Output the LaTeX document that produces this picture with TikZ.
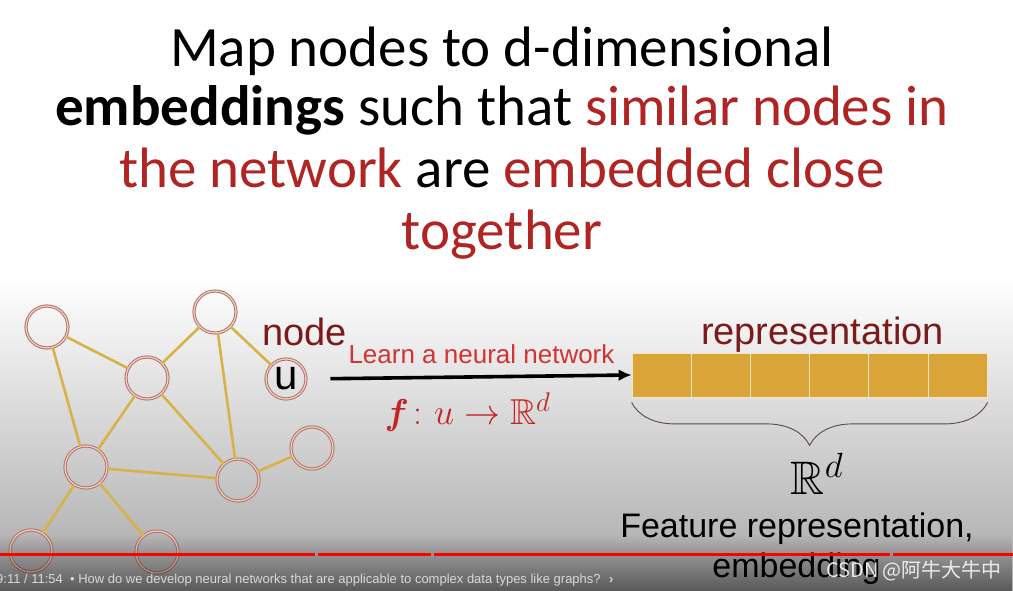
\documentclass[tikz,border=0pt]{standalone}
\usepackage{fix-cm}
\usepackage{amsmath,amssymb}
\usepackage{fontspec}
\setmainfont{Liberation Sans}
\newfontfamily\calibri{Carlito}
\newfontfamily\cjk{Noto Sans CJK SC}
\usepackage{xcolor}
\usepackage{tikz}
\usetikzlibrary{arrows.meta,positioning,decorations.pathreplacing,fadings}
\newcommand{\supd}[1]{^{\mbox{\fontsize{#1}{#1}\selectfont$d$}}}
\definecolor{slidered}{RGB}{176,36,36}
\definecolor{labelred}{RGB}{122,26,26}
\definecolor{learnred}{RGB}{208,52,52}
\definecolor{mathred}{RGB}{196,36,36}
\definecolor{edgegold}{RGB}{214,178,72}
\definecolor{cellgold}{RGB}{218,165,56}
\definecolor{ringbrown}{RGB}{176,108,94}
\definecolor{ringpink}{RGB}{236,206,198}
\definecolor{bracegray}{RGB}{96,70,70}

\begin{document}
\begin{tikzpicture}[x=1pt,y=1pt,
    titletext/.style={font=\calibri\fontsize{57}{61}\selectfont, inner sep=0pt, anchor=base},
    netnode/.style={circle, minimum size=42pt, inner sep=0pt, draw=ringbrown, line width=0.9pt,
      double=ringpink, double distance=1.3pt},
    netedge/.style={edgegold, line width=2.6pt},
    cellbox/.style={rectangle, fill=cellgold, draw=white!70!cellgold, line width=0.8pt,
      minimum width=59.2pt, minimum height=44pt, inner sep=0pt},
    flowarrow/.style={-{Latex[length=13pt,width=12pt]}, line width=3.6pt},
    dimbrace/.style={decorate, decoration={brace, mirror, amplitude=43pt}, bracegray, line width=0.9pt},
    bigword/.style={font=\fontsize{38}{40}\selectfont, labelred, inner sep=0pt, anchor=base},
    progress/.style={red, line width=3pt}]
    \useasboundingbox (0,0) rectangle (1013,591);
    \fill[white] (0,0) rectangle (1013,591);
    \shade[top color=white, bottom color=black!30] (0,40) rectangle (1013,311);
    \fill[black!30] (0,0) rectangle (1013,40);

    \node[titletext] (title1) at (502,524) {Map nodes to d-dimensional};
    \node[titletext] (title2) at (502,465) {{\bfseries embeddings} such that \textcolor{slidered}{similar nodes in}};
    \node[titletext] (title3) at (502,403) {\textcolor{slidered}{the network} are \textcolor{slidered}{embedded close}};
    \node[titletext, slidered] (title4) at (502,341) {together};

    \foreach \n/\x/\y in {a/47/264, b/215/279, c/147/213, d/86/124, e/238/111, f/312/143, g/31/40, h/157/39}
      \node[netnode] (\n) at (\x,\y) {};
    \node[netnode, minimum size=40pt, font=\fontsize{42}{42}\selectfont] (u) at (286,212) {u};
    \foreach \s/\t in {a/c, a/d, b/c, b/u, b/e, c/d, c/e, d/e, e/f, d/g, d/h}
      \draw[netedge] (\s) -- (\t);

    \node[bigword] (nodelabel) at (304.5,245) {node};

    \foreach \i in {1,...,6}
      \node[cellbox] (cell\i) at ({661.6+59.2*(\i-1)},216) {};
    \node[bigword] (replabel) at (822.5,246) {representation};

    \draw[flowarrow, shorten <=24pt] (u.east) -- (cell1.west);
    \node[learnred, font=\fontsize{26}{28}\selectfont, inner sep=0pt, anchor=base] (learn) at (481.5,227) {Learn a neural network};
    \node[mathred, font=\fontsize{36}{38}\selectfont, inner sep=0pt, anchor=base] (fmap) at (467.5,166)
      {$\boldsymbol{f}\colon u \to \mathbb{R}\supd{27}$};

    \draw[dimbrace] ([yshift=-5pt]cell1.south west) -- ([yshift=-5pt]cell6.south east);
    \node[font=\fontsize{47}{48}\selectfont, inner sep=0pt, anchor=base] (rd) at (817,96) {$\mathbb{R}\supd{35}$};

    \node[font=\fontsize{34}{36}\selectfont, inner sep=0pt, anchor=base] (feat1) at (797,53) {Feature representation,};
    \node[font=\fontsize{34}{36}\selectfont, inner sep=0pt, anchor=base] (feat2) at (796.5,13) {embedding};

    \fill[black, fill opacity=0.5, path fading=north] (0,0) rectangle (1013,56);
    \foreach \a/\b in {0/315, 317.5/431, 433.5/890, 892.5/1013}
      \draw[progress] (\a,36) -- (\b,36);
    \node[white!85!black, font=\fontsize{13}{14}\selectfont, inner sep=0pt, anchor=base west] (caption) at (-4,7)
      {9:11 / 11:54 \ \textbullet\ How do we develop neural networks that are applicable to complex data types like graphs? \ \textbf{›}};
    \node[white, opacity=0.85, font=\cjk\fontsize{20}{22}\selectfont, inner sep=0pt] (mark) at (914,20) {CSDN @阿牛大牛中};
  \end{tikzpicture}
\end{document}
